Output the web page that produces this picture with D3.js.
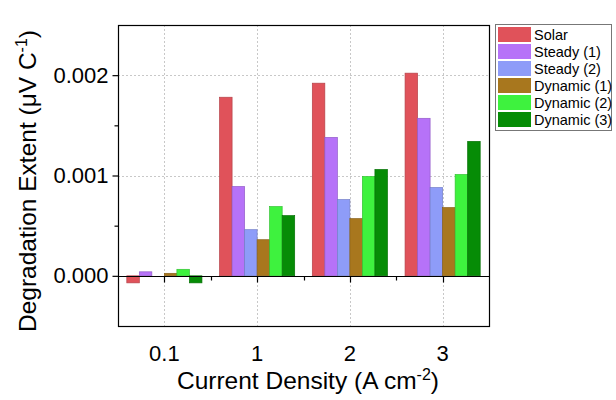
<!DOCTYPE html>
<html>
<head>
<meta charset="utf-8">
<script src="https://cdn.jsdelivr.net/npm/d3@7"></script>
<style>
  html, body { margin: 0; padding: 0; background: #fff; }
  svg { display: block; font-family: "Liberation Sans", Arial, sans-serif; }
</style>
</head>
<body>
<svg id="chart" width="616" height="400"></svg>
<script>
// Current density groups
const categories = ["0.1", "1", "2", "3"];
// Series names and fills
const seriesNames = ["Solar", "Steady (1)", "Steady (2)", "Dynamic (1)", "Dynamic (2)", "Dynamic (3)"];
const seriesColors = ["#E0525A", "#B672F8", "#8E9CF8", "#A8771E", "#3EF23E", "#068C06"];
// Degradation extent (µV C^-1), one array per series, ordered by category
const solar    = [-0.00007, 0.00178, 0.00192, 0.00202];
const steady1  = [0.00004, 0.00089, 0.00138, 0.00157];
const steady2  = [0.0, 0.00046, 0.00076, 0.00088];
const dynamic1 = [0.000025, 0.00036, 0.00057, 0.00068];
const dynamic2 = [0.000065, 0.00069, 0.00099, 0.00101];
const dynamic3 = [-0.00007, 0.00060, 0.00106, 0.00134];
const seriesValues = [solar, steady1, steady2, dynamic1, dynamic2, dynamic3];
// Axis ticks
const yMajorTicks = [0, 0.001, 0.002];
const yMinorTicks = [0.0005, 0.0015];
const yTickLabels = ["0.000", "0.001", "0.002"];

const svg = d3.select("#chart");
const plot = { left: 118, right: 489, top: 25, bottom: 326 };

const x = d3.scaleBand().domain(categories).range([plot.left, plot.right]).padding(0);
const groupWidth = x.bandwidth() * 0.81;
const xInner = d3.scaleBand().domain(seriesNames).range([0, groupWidth]).padding(0);
const y = d3.scaleLinear().domain([-0.0005, 0.0025]).range([plot.bottom, plot.top]);

// Grid lines
const grid = svg.append("g").attr("stroke", "#c8c8c8").attr("stroke-width", 1).attr("stroke-dasharray", "2,2");
categories.forEach(c => {
  const gx = Math.round(x(c) + x.bandwidth() / 2) + 0.5;
  grid.append("line").attr("x1", gx).attr("x2", gx).attr("y1", plot.top).attr("y2", plot.bottom);
});
[0.001, 0.002].forEach(v => {
  const gy = Math.round(y(v)) + 0.5;
  grid.append("line").attr("x1", plot.left).attr("x2", plot.right).attr("y1", gy).attr("y2", gy);
});

// Bars
const bars = [];
seriesNames.forEach((name, si) => {
  categories.forEach((c, ci) => {
    bars.push({ name, color: seriesColors[si], cat: c, value: seriesValues[si][ci] });
  });
});
svg.append("g").selectAll("rect").data(bars).join("rect")
  .attr("x", d => x(d.cat) + (x.bandwidth() - groupWidth) / 2 + xInner(d.name))
  .attr("width", xInner.bandwidth())
  .attr("y", d => Math.min(y(d.value), y(0)))
  .attr("height", d => Math.abs(y(d.value) - y(0)))
  .attr("fill", d => d.color)
  .attr("stroke", d => d3.color(d.color).darker(0.6))
  .attr("stroke-width", 0.7);

// Zero line with category ticks
const zeroY = Math.round(y(0)) + 0.5;
const zero = svg.append("g").attr("stroke", "#000").attr("stroke-width", 1.2);
zero.append("line").attr("x1", plot.left).attr("x2", plot.right).attr("y1", zeroY).attr("y2", zeroY);
categories.forEach(c => {
  const tx = Math.round(x(c) + x.bandwidth() / 2) + 0.5;
  zero.append("line").attr("x1", tx).attr("x2", tx).attr("y1", zeroY).attr("y2", zeroY + 6);
});
categories.slice(1).forEach(c => {
  const tx = Math.round(x(c)) + 0.5;
  zero.append("line").attr("x1", tx).attr("x2", tx).attr("y1", zeroY).attr("y2", zeroY + 4);
});

// Frame
svg.append("rect")
  .attr("x", plot.left + 0.5).attr("y", plot.top + 0.5)
  .attr("width", plot.right - plot.left).attr("height", plot.bottom - plot.top)
  .attr("fill", "none").attr("stroke", "#000").attr("stroke-width", 1.2);

// Left axis
const yAxis = d3.axisLeft(y).tickValues(yMajorTicks).tickSize(6).tickPadding(4)
  .tickFormat((d, i) => yTickLabels[i]);
const ya = svg.append("g").attr("transform", `translate(${plot.left + 0.5},0)`).call(yAxis);
ya.select(".domain").remove();
ya.selectAll("line").attr("stroke-width", 1.2);
ya.selectAll("text").attr("font-size", 22).attr("fill", "#000")
  .attr("font-family", "Liberation Sans, Arial, sans-serif");
const yMinor = d3.axisLeft(y).tickValues(yMinorTicks).tickSize(4).tickFormat("");
const ym = svg.append("g").attr("transform", `translate(${plot.left + 0.5},0)`).call(yMinor);
ym.select(".domain").remove();
ym.selectAll("line").attr("stroke-width", 1.2);

// Bottom category labels
const xAxis = d3.axisBottom(x).tickSize(0).tickPadding(19);
const xa = svg.append("g").attr("transform", `translate(0,${plot.bottom})`).call(xAxis);
xa.select(".domain").remove();
xa.selectAll("text").attr("font-size", 22).attr("fill", "#000")
  .attr("font-family", "Liberation Sans, Arial, sans-serif");

// Axis titles
const xTitle = svg.append("text")
  .attr("x", 308).attr("y", 389)
  .attr("text-anchor", "middle").attr("font-size", 24.5).attr("fill", "#000");
xTitle.append("tspan").text("Current Density (A cm");
xTitle.append("tspan").attr("dy", -9).attr("font-size", 16).text("-2");
xTitle.append("tspan").attr("dy", 9).text(")");

const yTitle = svg.append("text")
  .attr("transform", `translate(36,181) rotate(-90)`)
  .attr("text-anchor", "middle").attr("font-size", 24.5).attr("fill", "#000");
yTitle.append("tspan").text("Degradation Extent (\u03BCV C");
yTitle.append("tspan").attr("dy", -9).attr("font-size", 16).text("-1");
yTitle.append("tspan").attr("dy", 9).text(")");

// Legend
const lg = svg.append("g");
lg.append("rect").attr("x", 495.5).attr("y", 24.5).attr("width", 116).attr("height", 106)
  .attr("fill", "#fff").attr("stroke", "#777").attr("stroke-width", 1);
const items = lg.selectAll("g.item").data(seriesNames).join("g").attr("class", "item")
  .attr("transform", (d, i) => `translate(498,${27 + i * 17})`);
items.append("rect").attr("width", 33).attr("height", 15)
  .attr("fill", (d, i) => seriesColors[i]);
items.append("text").attr("x", 36).attr("y", 13).attr("font-size", 14.5).attr("fill", "#000").text(d => d);
</script>
</body>
</html>
